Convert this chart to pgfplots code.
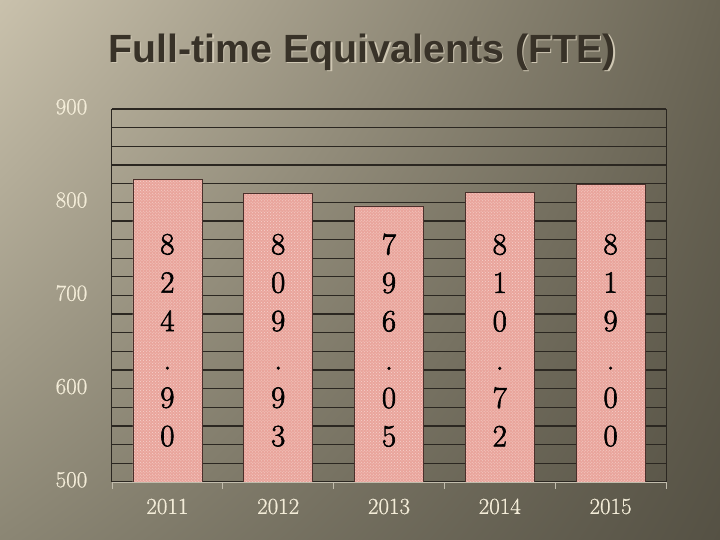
\documentclass[border=0pt]{standalone}
\usepackage{pgfplots}
\pgfplotsset{compat=1.18}
\usepackage{fontspec}
\newfontfamily\titlefont{Liberation Sans}
\newfontfamily\numfont[FakeBold=0.7]{Latin Modern Roman}
\newfontfamily\barfont[FakeBold=2]{Latin Modern Roman}
\usetikzlibrary{patterns,shadings}

\definecolor{bgUL}{HTML}{C9C1AC}
\definecolor{bgUR}{HTML}{6A6555}
\definecolor{bgLL}{HTML}{8B8674}
\definecolor{bgLR}{HTML}{555144}
\definecolor{gridc}{HTML}{2B2721}
\definecolor{barfill}{HTML}{E9A59C}
\definecolor{bardot}{HTML}{F6D2CC}
\definecolor{barline}{HTML}{4A302B}
\definecolor{ticktext}{HTML}{F3ECD8}
\definecolor{titlec}{HTML}{383228}
\definecolor{shadowc}{HTML}{CFC7B3}

\begin{document}
\begin{tikzpicture}
% slide background
\shade[upper left=bgUL, upper right=bgUR, lower left=bgLL, lower right=bgLR]
  (0,0) rectangle (720bp,540bp);

% title with light drop shadow
\node[font=\titlefont\bfseries\fontsize{39.5}{44}\selectfont, text=shadowc]
  at (363.5bp,486.5bp) {Full-time Equivalents (FTE)};
\node[font=\titlefont\bfseries\fontsize{39.5}{44}\selectfont, text=titlec]
  at (362bp,488bp) {Full-time Equivalents (FTE)};

\begin{axis}[
    at={(112bp,58bp)}, anchor=south west,
    scale only axis,
    width=554bp, height=373bp,
    xmin=-0.5, xmax=4.5,
    ymin=500, ymax=900,
    axis x line=bottom, axis y line=box,
    axis line style={-},
    x axis line style={draw=ticktext!80!black, line width=0.8bp},
    y axis line style={draw=gridc, line width=1bp},
    xtick={0,1,2,3,4},
    xticklabels={2011,2012,2013,2014,2015},
    major x tick style={draw=none},
    minor xtick={-0.5,0.5,...,4.5},
    minor x tick style={draw=ticktext!80!black, line width=0.8bp},
    tick align=outside,
    minor tick length=7bp,
    ytick={500,600,...,900},
    minor ytick={520,540,...,880},
    y tick style={draw=none},
    ymajorgrids, yminorgrids,
    major grid style={draw=gridc, line width=1.3bp},
    minor grid style={draw=gridc, line width=1.3bp},
    /pgf/number format/assume math mode=true,
    typeset ticklabels with strut,
    tick label style={font=\numfont\fontsize{23}{26}\selectfont, text=ticktext},
    yticklabel style={xshift=-17bp},
    xticklabel style={yshift=-6bp},
]
\addplot[ybar, bar width=69bp, bar shift=0pt,
    fill=barfill, draw=barline, line width=0.8bp,
    postaction={pattern=crosshatch dots, pattern color=bardot}]
  coordinates {(0,824.90) (1,809.93) (2,796.05) (3,810.72) (4,819.00)};

\addplot[draw=none, mark=none,
    nodes near coords, point meta=explicit symbolic,
    nodes near coords style={anchor=center, align=center, text=black,
      font=\barfont\fontsize{31}{38.5}\selectfont}]
  coordinates {
    (0,652) [{8\\2\\4\\.\\9\\0}]
    (1,652) [{8\\0\\9\\.\\9\\3}]
    (2,652) [{7\\9\\6\\.\\0\\5}]
    (3,652) [{8\\1\\0\\.\\7\\2}]
    (4,652) [{8\\1\\9\\.\\0\\0}]
  };
\end{axis}

\pgfresetboundingbox
\path (0,0) rectangle (720bp,540bp);
\end{tikzpicture}
\end{document}
